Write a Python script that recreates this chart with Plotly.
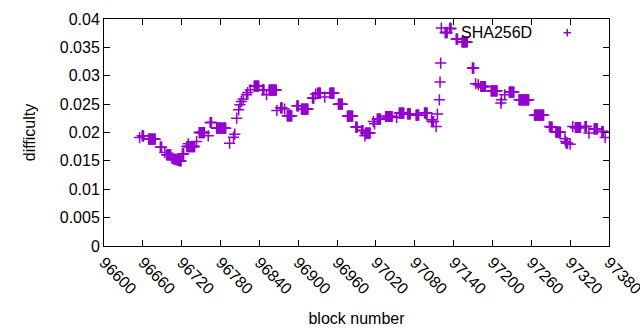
import plotly.graph_objects as go

# runs of constant difficulty: first block, last block, difficulty
run_first = [
    96655, 96659, 96669, 96687, 96694, 96697, 96705, 96708, 96711, 96714,
    96717, 96721, 96728, 96730, 96731, 96743, 96747, 96761, 96764, 96774,
    96794, 96800, 96802, 96805, 96808, 96810, 96812, 96815, 96820, 96822,
    96826, 96832, 96845, 96851, 96855, 96867, 96873, 96879, 96883, 96898,
    96905, 96922, 96927, 96930, 96941, 96949, 96962, 96976, 96989, 96998,
    97003, 97004, 97016, 97018, 97022, 97035, 97052, 97056, 97069, 97082,
    97095, 97106, 97107, 97113, 97115, 97118, 97119, 97120, 97121, 97127,
    97134, 97144, 97153, 97169, 97174, 97178, 97182, 97198, 97213, 97214,
    97219, 97226, 97241, 97265, 97288, 97290, 97298, 97312, 97313, 97314,
    97320, 97324, 97328, 97343, 97349, 97357, 97369, 97374,
]
run_last = [
    96655, 96661, 96679, 96689, 96694, 96703, 96706, 96709, 96712, 96715,
    96719, 96723, 96729, 96730, 96740, 96743, 96755, 96761, 96766, 96788,
    96794, 96800, 96802, 96805, 96808, 96810, 96812, 96815, 96820, 96822,
    96826, 96839, 96847, 96851, 96866, 96867, 96875, 96879, 96890, 96900,
    96915, 96924, 96927, 96934, 96941, 96955, 96968, 96984, 96991, 97000,
    97003, 97011, 97016, 97018, 97027, 97045, 97052, 97063, 97073, 97086,
    97099, 97106, 97109, 97113, 97115, 97118, 97119, 97120, 97121, 97130,
    97136, 97146, 97161, 97171, 97174, 97178, 97189, 97207, 97213, 97214,
    97219, 97233, 97256, 97279, 97288, 97292, 97305, 97312, 97313, 97316,
    97320, 97324, 97336, 97345, 97349, 97362, 97371, 97374,
]
run_value = [
    0.01911, 0.01941, 0.01883, 0.01742, 0.01646, 0.01606, 0.01550, 0.01530, 0.01520, 0.01510,
    0.01500, 0.01623, 0.01752, 0.01800, 0.01752, 0.01840, 0.01999, 0.01941, 0.02176, 0.02077,
    0.01812, 0.01918, 0.01971, 0.02253, 0.02400, 0.02488, 0.02546, 0.02589, 0.02665, 0.02705,
    0.02753, 0.02818, 0.02753, 0.02665, 0.02747, 0.02387, 0.02435, 0.02412, 0.02294, 0.02470,
    0.02412, 0.02606, 0.02677, 0.02695, 0.02624, 0.02695, 0.02500, 0.02289, 0.02095, 0.02035,
    0.01941, 0.01989, 0.02193, 0.02153, 0.02236, 0.02282, 0.02264, 0.02342, 0.02329, 0.02306,
    0.02342, 0.02223, 0.02193, 0.02105, 0.02324, 0.02576, 0.02889, 0.03224, 0.03841, 0.03760,
    0.03834, 0.03647, 0.03595, 0.03136, 0.02859, 0.02841, 0.02811, 0.02735, 0.02518, 0.02576,
    0.02665, 0.02712, 0.02576, 0.02306, 0.02105, 0.02095, 0.02006, 0.01888, 0.01840, 0.01812,
    0.01795, 0.02105, 0.02088, 0.02105, 0.01989, 0.02065, 0.02017, 0.01911,
]
series_name = "SHA256D"
x_ticks = list(range(96600, 97381, 60))
x_tick_labels = [str(v) for v in x_ticks]
y_ticks = [0, 0.005, 0.01, 0.015, 0.02, 0.025, 0.03, 0.035, 0.04]
y_tick_labels = ["0", "0.005", "0.01", "0.015", "0.02", "0.025", "0.03", "0.035", "0.04"]

# one point per block inside each constant-difficulty run
blocks, difficulty = [], []
for b0, b1, v in zip(run_first, run_last, run_value):
    for b in range(b0, b1 + 1):
        blocks.append(b)
        difficulty.append(v)

COLOR = "#9400d3"
FONT = "Liberation Sans"
FS = 16

fig = go.Figure()
fig.add_trace(go.Scatter(
    x=blocks, y=difficulty, mode="markers", name=series_name, showlegend=False,
    marker=dict(symbol="cross-thin", size=8, color=COLOR,
                line=dict(color=COLOR, width=1.5)),
))

axis_common = dict(
    showgrid=False, zeroline=False, showline=True, linecolor="black", linewidth=1,
    mirror="allticks", ticks="inside", ticklen=6, tickcolor="black", automargin=False,
    ticklabeloverflow="allow",
    tickfont=dict(family=FONT, size=FS, color="black"),
)

fig.update_layout(
    width=640, height=330,
    margin=dict(l=104, r=31, t=19, b=84),
    paper_bgcolor="white", plot_bgcolor="white",
    font=dict(family=FONT, size=FS, color="black"),
    xaxis=dict(range=[96600, 97380], tickvals=x_ticks, ticktext=x_tick_labels,
               tickangle=45, title=dict(text="block number", standoff=16,
                                        font=dict(family=FONT, size=FS)),
               **axis_common),
    yaxis=dict(range=[0, 0.04], tickvals=y_ticks, ticktext=y_tick_labels,
               title=dict(text="difficulty", standoff=20,
                          font=dict(family=FONT, size=FS)),
               **axis_common),
)

# gnuplot-style key: text on the left, sample symbol on the right
fig.add_annotation(xref="paper", yref="paper", x=0.851, y=0.9396,
                   text=series_name, showarrow=False, xanchor="right", yanchor="middle",
                   font=dict(family=FONT, size=FS, color="black"))
kx, ky, dx, dy = 0.9174, 0.9396, 0.0075, 0.0165
fig.add_shape(type="line", xref="paper", yref="paper", x0=kx - dx, x1=kx + dx, y0=ky, y1=ky,
              line=dict(color=COLOR, width=1.5))
fig.add_shape(type="line", xref="paper", yref="paper", x0=kx, x1=kx, y0=ky - dy, y1=ky + dy,
              line=dict(color=COLOR, width=1.5))

fig.write_html("out.html", config={"displayModeBar": False},
               post_script="document.body.style.margin='0';document.body.style.overflow='hidden';")
